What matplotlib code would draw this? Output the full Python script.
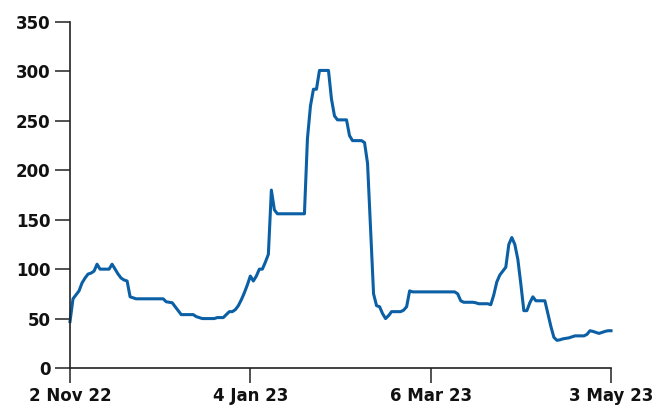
import matplotlib
matplotlib.use("Agg")
import matplotlib.pyplot as plt

# daily values (index 0 = 2 Nov 22)
values = [
    47, 70, 74, 78, 86, 91, 95, 96, 98, 105,
    100, 100, 100, 100, 105, 100, 95, 91, 89, 88,
    72, 71, 70, 70, 70, 70, 70, 70, 70, 70,
    70, 70, 67, 66.5, 66, 62, 58, 54, 54, 54,
    54, 54, 52, 51, 50, 50, 50, 50, 50, 51,
    51, 51, 54, 57, 57, 59, 63, 69, 76, 84,
    93, 88, 93, 100, 100, 107, 115, 180, 160, 156,
    156, 156, 156, 156, 156, 156, 156, 156, 156, 232,
    265, 282, 282, 301, 301, 301, 301, 272, 255, 251,
    251, 251, 251, 235, 230, 230, 230, 230, 228, 207,
    140, 75, 63, 62, 55, 50, 53, 57, 57, 57,
    57, 58.5, 62, 78, 77, 77, 77, 77, 77, 77,
    77, 77, 77, 77, 77, 77, 77, 77, 77, 75,
    68, 66.5, 66.5, 66.5, 66.5, 66, 65, 65, 65, 65,
    64, 74, 87, 94, 98, 102, 125, 132, 125, 110,
    85, 58, 58, 66, 72, 68, 68, 68, 68, 55,
    42, 31, 28, 28.5, 29.5, 30, 30.5, 31.5, 32.5, 32.5,
    32.5, 32.5, 34, 37.7, 37, 36, 35, 36, 37, 37.7,
    37.7,
]
tick_pos = [0, 60, 120, 180]
tick_labels = ["2 Nov 22", "4 Jan 23", "6 Mar 23", "3 May 23"]
y_ticks = [0, 50, 100, 150, 200, 250, 300, 350]

fig = plt.figure(figsize=(6.67, 4.11), dpi=100)
ax = fig.add_axes([70 / 667, 43 / 411, 541 / 667, 346 / 411])

ax.plot(range(len(values)), values, color="#0b5fa5", lw=2.2,
        solid_joinstyle="round", clip_on=False)

ax.set_xlim(0, len(values) - 1)
ax.set_ylim(0, 350)
ax.set_xticks(tick_pos)
ax.set_xticklabels(tick_labels)
ax.set_yticks(y_ticks)

for s in ["top", "right"]:
    ax.spines[s].set_visible(False)
for s in ["left", "bottom"]:
    ax.spines[s].set_color("#222222")
    ax.spines[s].set_linewidth(1.2)

ax.tick_params(axis="both", length=11, width=1.2, color="#333333",
               labelsize=12, pad=3)
for lab in ax.get_xticklabels() + ax.get_yticklabels():
    lab.set_fontweight("bold")
    lab.set_color("#111111")

fig.savefig("out.png", dpi=100)
